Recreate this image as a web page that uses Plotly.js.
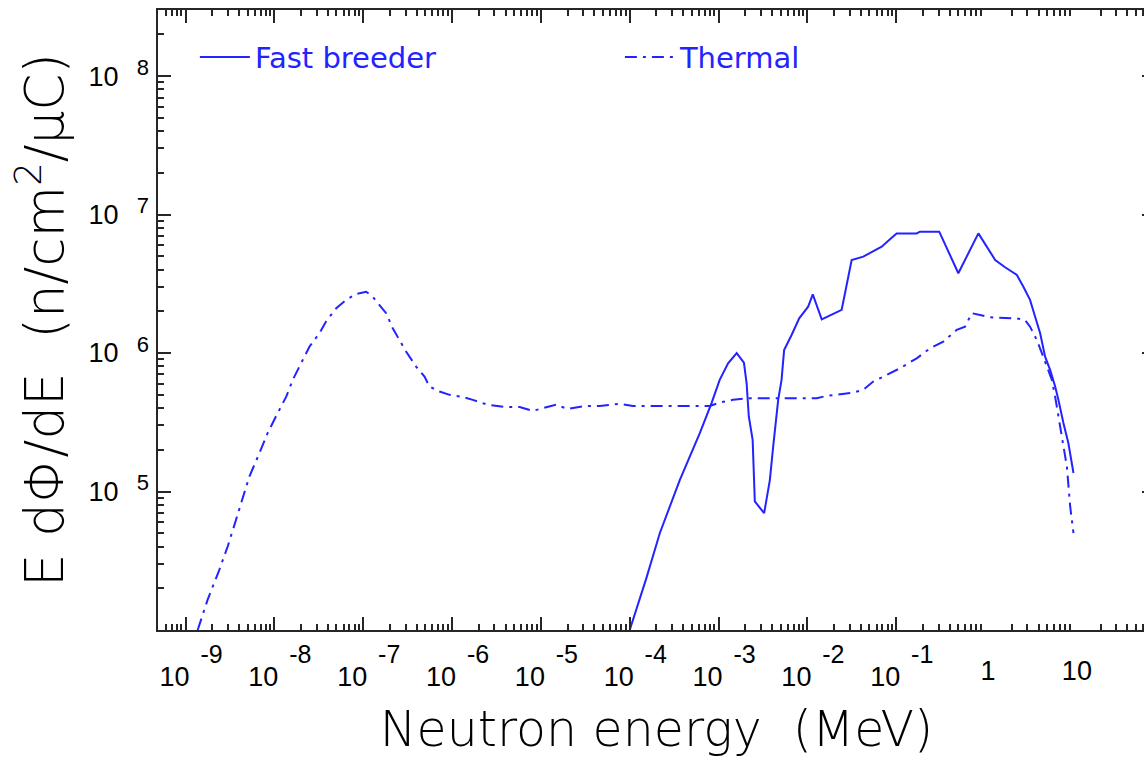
<!DOCTYPE html>
<html>
<head>
<meta charset="utf-8">
<script src="https://cdn.plot.ly/plotly-3.0.1.min.js"></script>
<style>
html, body { margin: 0; padding: 0; background: #ffffff; overflow: hidden; }
#chart { width: 1170px; height: 764px; }
</style>
</head>
<body>
<div id="chart"></div>
<script>
// ---- data ----
const fastEnergy = [1.0e-4, 1.54e-4, 2.18e-4, 3.66e-4, 6.15e-4, 8.34e-4, 1.03e-3, 1.28e-3, 1.60e-3, 1.93e-3,
  2.07e-3, 2.19e-3, 2.42e-3, 2.49e-3, 2.56e-3, 3.26e-3, 3.78e-3, 4.12e-3, 4.69e-3, 5.12e-3,
  5.47e-3, 6.64e-3, 8.09e-3, 1.02e-2, 1.15e-2, 1.45e-2, 2.43e-2, 2.65e-2, 3.15e-2, 4.26e-2,
  5.51e-2, 6.86e-2, 8.51e-2, 0.101, 0.170, 0.185, 0.305, 0.500, 0.841, 1.30,
  1.68, 2.28, 2.70, 3.21, 3.66, 4.17, 4.74, 5.40, 6.15, 6.70, 7.62, 8.67, 9.89];
const fastFlux = [1.0e4, 2.37e4, 5.0e4, 1.21e5, 2.64e5, 4.35e5, 6.40e5, 8.43e5, 9.98e5, 8.53e5,
  6.05e5, 3.48e5, 2.36e5, 1.51e5, 8.47e4, 6.98e4, 1.21e5, 2.11e5, 4.59e5, 6.40e5,
  1.05e6, 1.35e6, 1.78e6, 2.16e6, 2.65e6, 1.75e6, 2.05e6, 2.70e6, 4.70e6, 4.97e6,
  5.40e6, 5.86e6, 6.62e6, 7.31e6, 7.31e6, 7.52e6, 7.52e6, 3.77e6, 7.31e6, 4.70e6,
  4.16e6, 3.66e6, 3.01e6, 2.42e6, 1.83e6, 1.39e6, 9.42e5, 7.55e5, 5.73e5, 4.59e5, 3.12e5, 2.23e5, 1.36e5];

const thermalEnergy = [1.37e-9, 1.77e-9, 2.40e-9, 2.98e-9, 3.70e-9, 5.22e-9, 6.78e-9, 8.39e-9, 1.04e-8, 1.36e-8,
  1.61e-8, 2.08e-8, 2.48e-8, 3.21e-8, 3.82e-8, 4.94e-8, 6.41e-8, 8.32e-8, 1.08e-7, 1.28e-7,
  1.81e-7, 2.15e-7, 3.05e-7, 3.94e-7, 4.90e-7, 5.57e-7, 7.23e-7, 9.38e-7, 1.27e-6, 1.71e-6,
  2.53e-6, 3.91e-6, 5.77e-6, 8.07e-6, 1.10e-5, 1.47e-5, 2.00e-5, 3.11e-5, 4.59e-5, 7.71e-5,
  1.09e-4, 7.96e-4, 1.03e-3, 1.46e-3, 2.07e-3, 8.22e-3, 1.27e-2, 1.64e-2, 3.28e-2, 4.26e-2,
  5.51e-2, 7.80e-2, 0.110, 0.170, 0.240, 0.339, 0.480, 0.596, 0.708, 0.879,
  1.14, 2.28, 2.82, 3.21, 3.83, 4.36, 4.95, 5.65, 6.15, 6.70, 7.62, 8.34, 9.08, 9.89];
const thermalFlux = [1.00e4, 1.65e4, 2.72e4, 4.01e4, 6.25e4, 1.28e5, 1.89e5, 2.64e5, 3.48e5, 4.84e5,
  6.40e5, 8.91e5, 1.11e6, 1.39e6, 1.69e6, 2.10e6, 2.42e6, 2.67e6, 2.77e6, 2.55e6,
  1.94e6, 1.51e6, 1.02e6, 7.98e5, 6.76e5, 5.73e5, 5.27e5, 4.99e5, 4.84e5, 4.59e5,
  4.23e5, 4.08e5, 4.08e5, 3.82e5, 4.02e5, 4.23e5, 3.95e5, 4.15e5, 4.15e5, 4.30e5,
  4.15e5, 4.15e5, 4.39e5, 4.59e5, 4.72e5, 4.72e5, 4.72e5, 4.90e5, 5.18e5, 5.42e5,
  6.22e5, 6.95e5, 7.76e5, 9.16e5, 1.08e6, 1.21e6, 1.47e6, 1.55e6, 1.94e6, 1.88e6,
  1.81e6, 1.78e6, 1.73e6, 1.55e6, 1.24e6, 9.98e5, 7.98e5, 6.40e5, 4.84e5, 3.48e5, 2.11e5, 1.51e5, 7.80e4, 5.01e4];

const seriesNames = ["Fast breeder", "Thermal"];

// tick labels
const xExpTickVals = [1e-9, 1e-8, 1e-7, 1e-6, 1e-5, 1e-4, 1e-3, 1e-2, 1e-1];
const xExpBase = ["10", "10", "10", "10", "10", "10", "10", "10", "10"];
const xExpPower = ["-9", "-8", "-7", "-6", "-5", "-4", "-3", "-2", "-1"];
const xPlainTickVals = [1, 10];
const xPlainText = ["1", "10"];
const yTickVals = [1e5, 1e6, 1e7, 1e8];
const yBase = ["10", "10", "10", "10"];
const yPower = ["5", "6", "7", "8"];

// minor tick positions (axis decoration)
const xMinor = [];
for (let d = -10; d <= 1; d++) for (let m = 2; m <= 9; m++) xMinor.push(m * Math.pow(10, d));
const yMinor = [];
for (let d = 4; d <= 8; d++) for (let m = 2; m <= 9; m++) yMinor.push(m * Math.pow(10, d));

const blue = "rgb(35,35,255)";
const axisColor = "#262626";
const xRange = [-9.31, 1.913];
const yRange = [4, 8.477];
const tickFont = { family: "Liberation Sans, Arial, sans-serif", size: 27, color: "#000" };
const expFontX = { family: "Liberation Sans, Arial, sans-serif", size: 25, color: "#000" };
const expFontY = { family: "Liberation Sans, Arial, sans-serif", size: 22, color: "#000" };
const xTitleFont = { family: "DejaVu Sans, sans-serif", size: 49, color: "#000", weight: 200 };
const yTitleFont = { family: "DejaVu Sans, sans-serif", size: 53, color: "#000", weight: 200 };

const traces = [
  { x: fastEnergy, y: fastFlux, type: "scatter", mode: "lines", name: seriesNames[0],
    line: { color: blue, width: 2 } },
  { x: thermalEnergy, y: thermalFlux, type: "scatter", mode: "lines", name: seriesNames[1],
    line: { color: blue, width: 2, dash: "12px,6px,3px,6px" } },
  // empty carriers so that the label-only overlay axes get drawn
  { x: [null], y: [null], xaxis: "x2", yaxis: "y", type: "scatter", mode: "lines", showlegend: false, hoverinfo: "skip" },
  { x: [null], y: [null], xaxis: "x3", yaxis: "y", type: "scatter", mode: "lines", showlegend: false, hoverinfo: "skip" },
  { x: [null], y: [null], xaxis: "x", yaxis: "y2", type: "scatter", mode: "lines", showlegend: false, hoverinfo: "skip" }
];

const overlayBase = { type: "log", range: xRange, autorange: false, showline: false, ticks: "", showgrid: false,
  zeroline: false, tickmode: "array", fixedrange: true };

const layout = {
  width: 1170, height: 764,
  margin: { l: 158, r: 15, t: 10, b: 134 },
  paper_bgcolor: "#fff", plot_bgcolor: "#fff",
  showlegend: true,
  legend: { x: 0.037, y: 0.965, xanchor: "left", yanchor: "top", orientation: "h",
    entrywidth: 360, entrywidthmode: "pixels", itemwidth: 50,
    font: { family: "DejaVu Sans, sans-serif", size: 29, color: blue },
    bgcolor: "rgba(0,0,0,0)" },
  xaxis: {
    type: "log", range: xRange, autorange: false, showline: true, linecolor: axisColor, linewidth: 2,
    mirror: "ticks", ticks: "inside", ticklen: 13, tickwidth: 2, tickcolor: axisColor,
    tickmode: "array", tickvals: xExpTickVals, ticktext: xExpBase, tickfont: tickFont,
    ticklabelshift: -11, ticklabelstandoff: 22,
    minor: { tickmode: "array", tickvals: xMinor, ticks: "inside", ticklen: 6, tickwidth: 2, tickcolor: axisColor, showgrid: false },
    showgrid: false, zeroline: false, fixedrange: true,
    title: { text: "Neutron energy \u00a0(MeV)", font: xTitleFont, standoff: 20 }
  },
  xaxis2: Object.assign({}, overlayBase, { overlaying: "x", anchor: "y", side: "bottom",
    tickvals: xExpTickVals, ticktext: xExpPower, tickfont: expFontX,
    ticklabelshift: 26, ticklabelstandoff: 7 }),
  xaxis3: Object.assign({}, overlayBase, { overlaying: "x", anchor: "y", side: "bottom",
    tickvals: xPlainTickVals, ticktext: xPlainText, tickfont: tickFont,
    ticklabelshift: 3, ticklabelstandoff: 22 }),
  yaxis: {
    type: "log", range: yRange, autorange: false, showline: true, linecolor: axisColor, linewidth: 2,
    mirror: "ticks", ticks: "inside", ticklen: 13, tickwidth: 2, tickcolor: axisColor,
    tickmode: "array", tickvals: yTickVals, ticktext: yBase, tickfont: tickFont,
    ticklabelshift: 0, ticklabelstandoff: 32,
    minor: { tickmode: "array", tickvals: yMinor, ticks: "inside", ticklen: 6, tickwidth: 2, tickcolor: axisColor, showgrid: false },
    showgrid: false, zeroline: false, fixedrange: true,
    title: { text: "E d\u03a6/dE \u00a0(n/cm<sup>2</sup>/\u03bcC)", font: yTitleFont, standoff: 8 }
  },
  yaxis2: { type: "log", range: yRange, autorange: false, overlaying: "y", anchor: "x", side: "left",
    showline: false, ticks: "", showgrid: false, zeroline: false, tickmode: "array",
    tickvals: yTickVals, ticktext: yPower, tickfont: expFontY,
    ticklabelshift: -9, ticklabelstandoff: 8, fixedrange: true }
};

Plotly.newPlot("chart", traces, layout, { displayModeBar: false, staticPlot: true });
</script>
</body>
</html>
